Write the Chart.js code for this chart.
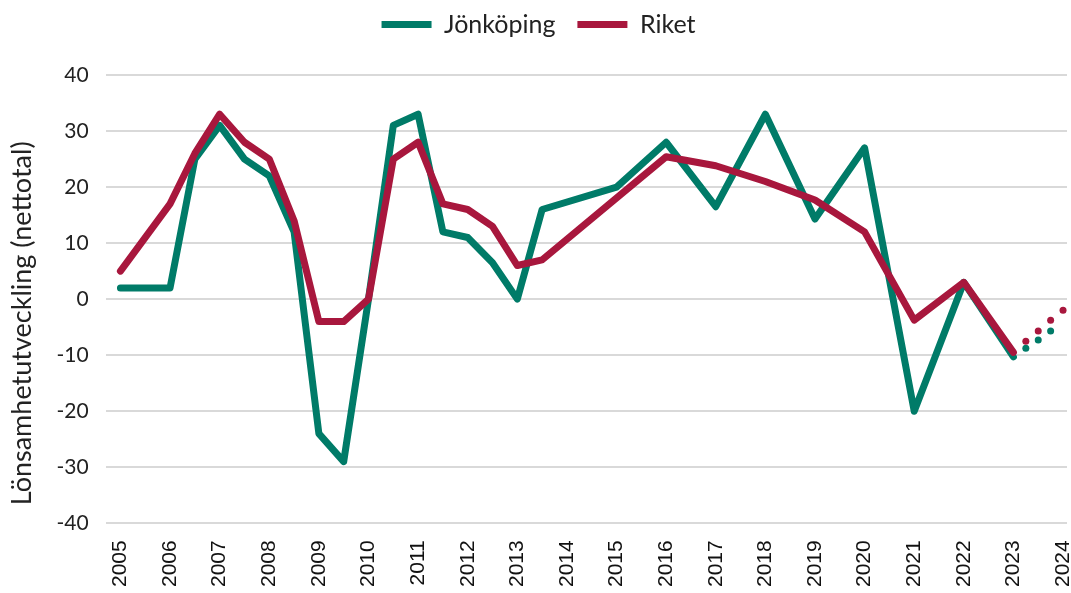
<!DOCTYPE html>
<html>
<head>
<meta charset="utf-8">
<script src="https://cdn.jsdelivr.net/npm/chart.js@4/dist/chart.umd.min.js"></script>
<style>
  html, body { margin: 0; padding: 0; background: #fff; }
  #wrap { width: 1071px; height: 593px; }
</style>
</head>
<body>
<div id="wrap"><canvas id="myChart"></canvas></div>
<script>
// years (half-year steps where the line has kinks)
const jkpYears = [2005, 2006, 2006.5, 2007, 2007.5, 2008, 2008.5, 2009, 2009.5, 2010, 2010.5, 2011, 2011.5, 2012, 2012.5, 2013, 2013.5, 2015, 2016, 2017, 2018, 2019, 2020, 2021, 2022, 2023];
const jkpValues = [2, 2, 25, 31, 25, 22, 12, -24, -29, 0, 31, 33, 12, 11, 6.5, 0, 16, 20, 28, 16.5, 33, 14.3, 27, -20, 3, -10.3];

const riketYears = [2005, 2006, 2006.5, 2007, 2007.5, 2008, 2008.5, 2009, 2009.5, 2010, 2010.5, 2011, 2011.5, 2012, 2012.5, 2013, 2013.5, 2016, 2017, 2018, 2019, 2020, 2021, 2022, 2023];
const riketValues = [5, 17, 26, 33, 28, 25, 14, -4, -4, 0, 25, 28, 17, 16, 13, 6, 7, 25.4, 23.8, 21, 17.7, 12, -3.75, 3, -9.5];

// forecast (dotted part)
const jkpFcYears = [2023.25, 2023.5, 2023.75];
const jkpFcValues = [-8.75, -7.3, -5.7];
const riketFcYears = [2023.25, 2023.5, 2023.75, 2024];
const riketFcValues = [-7.5, -5.7, -3.75, -2];

const green = '#007b68';
const red = '#a8173d';

const toXY = (xs, ys) => xs.map((x, i) => ({ x: x, y: ys[i] }));

// extra room under the legend
const legendGap = {
    id: 'legendGap',
    beforeInit(chart) {
        const fit = chart.legend.fit;
        chart.legend.fit = function () {
            fit.bind(chart.legend)();
            this.height += 28;
        };
    }
};

const ctx = document.getElementById('myChart');

new Chart(ctx, {
    type: 'line',
    data: {
        datasets: [{
            label: 'Jönköping',
            data: toXY(jkpYears, jkpValues),
            borderColor: green,
            backgroundColor: green,
            borderWidth: 7,
            borderJoinStyle: 'round',
            borderCapStyle: 'round',
            pointRadius: 0,
            tension: 0,
            order: 2
        }, {
            label: 'Riket',
            data: toXY(riketYears, riketValues),
            borderColor: red,
            backgroundColor: red,
            borderWidth: 7,
            borderJoinStyle: 'round',
            borderCapStyle: 'round',
            pointRadius: 0,
            tension: 0,
            order: 1
        }, {
            label: 'fc_jkp',
            data: toXY(jkpFcYears, jkpFcValues),
            showLine: false,
            pointRadius: 3.5,
            pointBorderWidth: 0,
            pointBackgroundColor: green,
            order: 2
        }, {
            label: 'fc_riket',
            data: toXY(riketFcYears, riketFcValues),
            showLine: false,
            pointRadius: 3.5,
            pointBorderWidth: 0,
            pointBackgroundColor: red,
            order: 1
        }]
    },
    options: {
        responsive: true,
        maintainAspectRatio: false,
        animation: false,
        layout: { padding: { top: -10, right: 0, left: 6, bottom: -3 } },
        plugins: {
            tooltip: { enabled: false },
            legend: {
                position: 'top',
                labels: {
                    filter: item => item.text.indexOf('fc_') !== 0,
                    sort: (a, b) => a.datasetIndex - b.datasetIndex,
                    usePointStyle: true,
                    pointStyle: 'line',
                    pointStyleWidth: 50,
                    boxWidth: 50,
                    boxHeight: 7,
                    padding: 22,
                    color: '#222',
                    font: { family: 'Lato', size: 25 }
                }
            }
        },
        scales: {
            x: {
                type: 'linear',
                min: 2004.7,
                max: 2024.08,
                afterFit: s => { s.paddingRight = 0; },
                afterBuildTicks: s => {
                    s.ticks = [];
                    for (let y = 2005; y <= 2024; y++) s.ticks.push({ value: y });
                },
                grid: { display: false },
                border: { display: false },
                ticks: {
                    minRotation: 90,
                    maxRotation: 90,
                    padding: 9,
                    color: '#111',
                    font: { family: 'Liberation Sans', size: 21 },
                    callback: v => String(v)
                }
            },
            y: {
                min: -40,
                max: 40,
                ticks: {
                    stepSize: 10,
                    padding: 17,
                    color: '#222',
                    font: { family: 'Lato', size: 21 }
                },
                grid: { color: '#d9d9d9', lineWidth: 2, drawTicks: false },
                border: { display: false },
                title: {
                    display: true,
                    text: 'Lönsamhetutveckling (nettotal)\u00a0\u00a0\u00a0\u00a0\u00a0\u00a0\u00a0',
                    color: '#222',
                    font: { family: 'Lato', size: 27 },
                    padding: { top: 0, bottom: 1 }
                }
            }
        }
    },
    plugins: [legendGap]
});
</script>
</body>
</html>
